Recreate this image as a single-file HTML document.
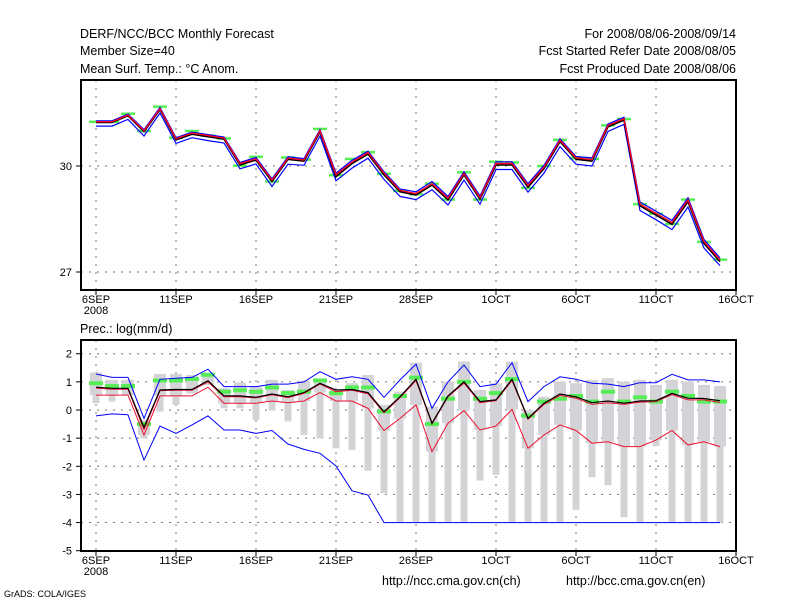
<!DOCTYPE html>
<html><head><meta charset="utf-8"><style>
html,body{margin:0;padding:0;background:#fff;}
svg{display:block;font-family:"Liberation Sans",sans-serif;}
</style></head><body>
<svg id="chart" width="800" height="600" xmlns="http://www.w3.org/2000/svg">
<g font-size="12.5" fill="#000">
<text x="80" y="38">DERF/NCC/BCC Monthly Forecast</text>
<text x="80" y="55">Member Size=40</text>
<text x="80" y="73">Mean Surf. Temp.: °C Anom.</text>
<text x="736" y="38" text-anchor="end">For 2008/08/06-2008/09/14</text>
<text x="736" y="55" text-anchor="end">Fcst Started Refer Date 2008/08/05</text>
<text x="736" y="73" text-anchor="end">Fcst Produced Date 2008/08/06</text>
<text x="80" y="333">Prec.: log(mm/d)</text>
<text x="382" y="585">http://ncc.cma.gov.cn(ch)</text>
<text x="566" y="585">http://bcc.cma.gov.cn(en)</text>
<text x="4" y="597" font-size="9">GrADS: COLA/IGES</text>
</g>
<g id="top"></g>
<g id="bot"></g>
</svg>
<script>
// Top panel data (temperature)
const tMean=[31.23,31.23,31.42,30.97,31.6,30.74,30.9,30.83,30.76,30.03,30.17,29.56,30.19,30.14,30.97,29.7,30.07,30.34,29.75,29.27,29.18,29.46,29.04,29.75,29.06,30.03,30.03,29.4,29.93,30.69,30.19,30.14,31.11,31.3,28.87,28.61,28.35,28.99,27.81,27.29];
const tRed=[31.25,31.25,31.44,31.0,31.62,30.77,30.93,30.86,30.79,30.07,30.2,29.6,30.22,30.17,31.0,29.75,30.11,30.38,29.8,29.31,29.22,29.5,29.09,29.79,29.1,30.07,30.07,29.45,29.97,30.73,30.23,30.18,31.15,31.34,28.92,28.66,28.4,29.04,27.86,27.34];
const tHi=[31.28,31.28,31.47,31.03,31.66,30.8,30.96,30.89,30.82,30.1,30.24,29.64,30.26,30.21,31.03,29.8,30.16,30.42,29.84,29.35,29.27,29.56,29.14,29.84,29.15,30.12,30.12,29.5,30.02,30.77,30.27,30.23,31.19,31.38,28.98,28.72,28.46,29.1,27.92,27.4];
const tLo=[31.13,31.13,31.32,30.85,31.5,30.64,30.8,30.72,30.65,29.92,30.06,29.42,30.05,30.02,30.85,29.58,29.94,30.22,29.62,29.14,29.05,29.33,28.9,29.6,28.92,29.9,29.9,29.26,29.8,30.55,30.05,30.0,30.98,31.18,28.74,28.48,28.2,28.84,27.68,27.18];
const tObs=[31.25,31.25,31.48,30.99,31.68,30.8,30.99,30.86,30.78,30.01,30.26,29.56,30.24,30.18,31.05,29.74,30.2,30.39,29.78,29.3,29.2,29.5,29.05,29.82,29.05,30.12,30.1,29.38,30.0,30.74,30.22,30.2,31.15,31.33,28.92,28.65,28.36,29.05,27.85,27.35];
const tTicks=[30,27];
// Bottom panel data (precip log)
const pMean=[0.81,0.77,0.77,-0.62,0.71,0.73,0.73,1.04,0.5,0.5,0.45,0.57,0.47,0.62,0.95,0.71,0.73,0.62,-0.06,0.47,1.09,-0.47,0.5,1.0,0.3,0.36,1.09,-0.3,0.24,0.57,0.47,0.26,0.32,0.24,0.32,0.33,0.59,0.42,0.41,0.33];
const pRedHi=[0.78,0.74,0.74,-0.7,0.69,0.7,0.7,1.0,0.47,0.47,0.43,0.54,0.44,0.59,0.92,0.65,0.7,0.58,-0.1,0.44,1.05,-0.5,0.47,0.96,0.26,0.33,1.05,-0.33,0.2,0.52,0.42,0.2,0.26,0.2,0.28,0.3,0.55,0.36,0.36,0.27];
const pRedLo=[0.53,0.53,0.53,-0.89,0.5,0.5,0.5,0.81,0.24,0.24,0.24,0.32,0.26,0.32,0.62,0.32,0.32,0.06,-0.73,-0.3,0.18,-1.48,-0.47,-0.02,-0.71,-0.57,0.02,-1.36,-0.89,-0.53,-0.73,-1.18,-1.13,-1.3,-1.3,-1.07,-0.73,-1.24,-1.13,-1.3];
const pBlueHi=[1.28,1.16,1.16,-0.3,1.09,1.13,1.16,1.45,0.83,0.83,0.83,0.92,0.92,1.0,1.36,1.09,1.18,1.09,0.45,1.07,1.63,0.06,1.0,1.6,0.83,0.92,1.68,0.3,0.83,1.18,1.09,0.95,0.92,0.83,0.97,0.97,1.27,1.07,1.07,1.0];
const pBlueLo=[-0.21,-0.14,-0.17,-1.78,-0.57,-0.83,-0.53,-0.21,-0.71,-0.71,-0.83,-0.73,-1.21,-1.4,-1.54,-1.99,-2.87,-3.02,-4,-4,-4,-4,-4,-4,-4,-4,-4,-4,-4,-4,-4,-4,-4,-4,-4,-4,-4,-4,-4,-4];
const pBarTop=[1.33,1.07,1.07,-0.36,1.28,1.28,1.24,1.33,0.77,0.97,0.83,1.07,0.71,1.04,1.07,0.71,0.95,1.24,0.18,0.65,1.68,0.12,1.01,1.72,0.71,0.95,1.72,0.0,0.47,1.01,0.95,1.07,1.13,1.01,1.07,0.89,1.07,1.01,0.89,0.85];
const pBarBot=[0.24,0.3,0.53,-1.01,-0.06,0.18,0.59,0.89,0.06,0.06,-0.36,-0.02,-0.41,-0.89,-1.01,-1.36,-1.42,-2.16,-2.96,-4,-4,-4,-4,-4,-2.51,-2.31,-4,-4,-4,-4,-3.55,-2.39,-2.67,-3.81,-4,-1.28,-4,-4,-4,-4];
const pObs=[0.95,0.85,0.85,-0.5,1.05,1.05,1.1,1.25,0.65,0.7,0.65,0.8,0.6,0.65,1.05,0.6,0.8,0.8,-0.05,0.5,1.15,-0.5,0.4,1.0,0.4,0.6,1.1,-0.2,0.3,0.4,0.5,0.3,0.65,0.3,0.45,0.3,0.65,0.5,0.3,0.3];
const pTicks=[2,1,0,-1,-2,-3,-4,-5];
const xLabelsTop=["6SEP","11SEP","16SEP","21SEP","28SEP","1OCT","6OCT","11OCT","16OCT"];
const xLabelsBot=["6SEP","11SEP","16SEP","21SEP","26SEP","1OCT","6OCT","11OCT","16OCT"];

const NS="http://www.w3.org/2000/svg";
const X0=96,DX=16,XL=81,XR=736;
function xs(i){return X0+i*DX;}
function yT(v){return 166-(v-30)*35.33;}
function yP(v){return 410-v*28.14;}
function mk(par,tag,at){const e=document.createElementNS(NS,tag);for(const k in at)e.setAttribute(k,at[k]);par.appendChild(e);return e;}
function panel(g,y0,y1,ticks,yf,labels){
  // grid
  for(let k=0;k<labels.length;k++){const x=xs(k*5);
    const l=mk(g,'line',{x1:x,x2:x,y1:y0,y2:y1,stroke:'#777','stroke-dasharray':'2,6'});
    
    
    const tk=mk(g,'line',{x1:x,x2:x,y1:y1,y2:y1+5,stroke:'#000'});
    
    
    const t=mk(g,'text',{x:x,y:y1+13,'text-anchor':'middle','font-size':'11'});t.textContent=labels[k];
    
    
  }
  const yr=mk(g,'text',{x:X0,y:y1+24,'text-anchor':'middle','font-size':'11'});yr.textContent='2008';
  
  
  for(const v of ticks){const y=yf(v);
    const l=mk(g,'line',{x1:XL,x2:XR,y1:y,y2:y,stroke:'#777','stroke-dasharray':'2,6'});
    
    
    const tk=mk(g,'line',{x1:XL-5,x2:XL,y1:y,y2:y,stroke:'#000'});
    
    
    const t=mk(g,'text',{x:XL-9,y:y+4,'text-anchor':'end','font-size':'11'});t.textContent=v;
    
    
  }
}
function line(g,arr,yf,col,w,name){
  const p=mk(g,'polyline',{points:arr.map((v,i)=>xs(i)+','+yf(v).toFixed(1)).join(' '),fill:'none',stroke:col,'stroke-width':w});
  
  
}
function obs(g,arr,yf,h,name){
  arr.forEach((v,i)=>{const r=mk(g,'rect',{x:xs(i)-7,y:yf(v)-h/2,width:14,height:h,fill:'#55ee55'});
    
    });
}
// top
const gt=document.getElementById('top');
panel(gt,80,290,tTicks,yT,xLabelsTop);
obs(gt,tObs,yT,2.5,'observed-temp');
line(gt,tHi,yT,'#0000ff',1.2,'temp-upper-line');
line(gt,tLo,yT,'#0000ff',1.2,'temp-lower-line');
line(gt,tMean,yT,'#000',1.6,'temp-mean-line');
line(gt,tRed,yT,'#ff0022',1.4,'temp-red-line');
const ft=mk(gt,'rect',{x:XL,y:80,width:XR-XL,height:210,fill:'none',stroke:'#000','stroke-width':2});


// bottom
const gb=document.getElementById('bot');
panel(gb,340,551,pTicks,yP,xLabelsBot);
pBarTop.forEach((v,i)=>{
  const wb=mk(gb,'rect',{x:xs(i)-3.5,y:yP(v),width:7,height:yP(pBarBot[i])-yP(v),fill:'#d4d4d8'});
  
  
  const lo=Math.max(pRedLo[i],pBarBot[i]);
  const bx=mk(gb,'rect',{x:xs(i)-6,y:yP(v),width:12,height:Math.max(0,yP(lo)-yP(v)),fill:'#d4d4d8'});
  
  
});
obs(gb,pObs,yP,4,'observed-precip');
line(gb,pBlueHi,yP,'#0000ff',1,'precip-blue-upper');
line(gb,pBlueLo,yP,'#0000ff',1,'precip-blue-lower');
line(gb,pRedLo,yP,'#ee1133',1,'precip-red-lower');
line(gb,pRedHi,yP,'#ee1133',1,'precip-red-upper');
line(gb,pMean,yP,'#000',1.2,'precip-mean-line');
const fb=mk(gb,'rect',{x:XL,y:340,width:XR-XL,height:211,fill:'none',stroke:'#000','stroke-width':2});


</script>
</body></html>
